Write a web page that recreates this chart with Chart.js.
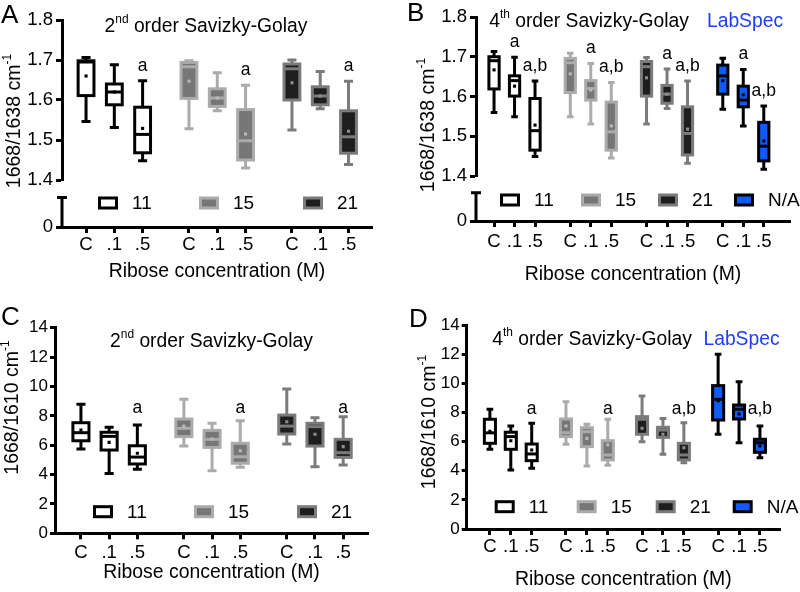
<!DOCTYPE html>
<html>
<head>
<meta charset="utf-8">
<script src="https://cdn.jsdelivr.net/npm/chart.js@4.4.1/dist/chart.umd.min.js"></script>
<style>
  body { margin: 0; background: #fff; }
  #wrap { position: relative; width: 800px; height: 592px; }
  .panel { position: absolute; width: 400px; height: 296px; }
</style>
</head>
<body>
<div id="wrap">
  <div class="panel" style="left:0;top:0"><canvas id="chartA" width="400" height="296"></canvas></div>
  <div class="panel" style="left:400px;top:0"><canvas id="chartB" width="400" height="296"></canvas></div>
  <div class="panel" style="left:0;top:296px"><canvas id="chartC" width="400" height="296"></canvas></div>
  <div class="panel" style="left:400px;top:296px"><canvas id="chartD" width="400" height="296"></canvas></div>
</div>
<script>
// categories
const conc = ['C', '.1', '.5'];
const groups3 = ['11', '15', '21'];
const groups4 = ['11', '15', '21', 'N/A'];

// A: 1668/1638, 2nd order (order: 11 C,.1,.5 | 15 ... | 21 ...)
const A_max  = [1.706, 1.688, 1.648, 1.698, 1.668, 1.637, 1.700, 1.671, 1.647];
const A_q3   = [1.698, 1.640, 1.582, 1.694, 1.628, 1.576, 1.690, 1.633, 1.573];
const A_med  = [1.695, 1.620, 1.514, 1.683, 1.605, 1.498, 1.678, 1.610, 1.508];
const A_q1   = [1.611, 1.588, 1.468, 1.604, 1.584, 1.450, 1.600, 1.588, 1.467];
const A_min  = [1.546, 1.531, 1.448, 1.528, 1.573, 1.430, 1.525, 1.578, 1.439];
const A_mean = [1.660, 1.620, 1.529, 1.647, 1.605, 1.515, 1.643, 1.610, 1.522];
const A_sig  = ['', '', 'a', '', '', 'a', '', '', 'a'];

// B: 1668/1638, 4th order + LabSpec
const B_max  = [1.713, 1.699, 1.639, 1.709, 1.683, 1.635, 1.698, 1.669, 1.639, 1.696, 1.668, 1.576];
const B_q3   = [1.700, 1.652, 1.595, 1.696, 1.640, 1.586, 1.688, 1.628, 1.574, 1.679, 1.626, 1.535];
const B_med  = [1.690, 1.640, 1.514, 1.685, 1.620, 1.511, 1.675, 1.606, 1.507, 1.652, 1.591, 1.475];
const B_q1   = [1.619, 1.601, 1.465, 1.610, 1.591, 1.465, 1.601, 1.583, 1.453, 1.606, 1.574, 1.438];
const B_min  = [1.560, 1.549, 1.449, 1.549, 1.531, 1.445, 1.531, 1.570, 1.432, 1.568, 1.526, 1.417];
const B_mean = [1.667, 1.626, 1.528, 1.657, 1.616, 1.526, 1.647, 1.606, 1.518, 1.640, 1.604, 1.488];
const B_sig  = ['', 'a', 'a,b', '', 'a', 'a,b', '', 'a', 'a,b', '', 'a', 'a,b'];

// C: 1668/1610, 2nd order
const C_max  = [8.78, 7.22, 7.37, 9.12, 7.49, 7.67, 9.83, 7.87, 7.94];
const C_q3   = [7.53, 6.88, 5.96, 7.78, 7.01, 6.13, 8.05, 7.49, 6.40];
const C_med  = [6.85, 6.60, 5.19, 7.15, 6.40, 5.21, 7.30, 7.26, 5.49];
const C_q1   = [6.30, 5.67, 4.72, 6.58, 5.85, 4.77, 6.76, 5.94, 5.17];
const C_min  = [5.74, 4.08, 4.36, 5.94, 4.26, 4.49, 6.08, 4.53, 4.65];
const C_mean = [7.03, 6.19, 5.45, 7.30, 6.42, 5.62, 7.60, 6.74, 5.90];
const C_sig  = ['', '', 'a', '', '', 'a', '', '', 'a'];

// D: 1668/1610, 4th order + LabSpec
const D_max  = [8.21, 7.07, 7.26, 8.74, 7.19, 7.53, 9.13, 7.58, 7.30, 11.99, 10.11, 7.07];
const D_q3   = [7.53, 6.64, 5.83, 7.55, 6.95, 6.06, 7.71, 6.98, 5.88, 9.84, 8.51, 6.16];
const D_med  = [6.60, 6.34, 5.15, 6.61, 6.68, 5.08, 7.53, 6.79, 5.08, 8.90, 8.22, 5.92];
const D_q1   = [5.88, 5.47, 4.69, 6.34, 5.65, 4.74, 6.50, 6.29, 4.74, 7.48, 7.55, 5.26];
const D_min  = [5.47, 4.05, 4.17, 5.81, 4.32, 4.37, 5.99, 5.13, 4.55, 6.50, 5.92, 4.89];
const D_mean = [6.70, 6.06, 5.42, 7.07, 6.22, 5.77, 6.91, 6.50, 5.58, 8.80, 7.89, 5.70];
const D_sig  = ['', '', 'a', '', '', 'a', '', '', 'a,b', '', '', 'a,b'];

const FONT = "'Liberation Sans', Arial, sans-serif";
Chart.defaults.font.family = FONT;
Chart.defaults.color = '#000';

const styles = {
  '11':  { fill: '#ffffff', line: '#000000', dot: '#000000' },
  '15':  { fill: '#767676', line: '#ababab', dot: '#b8b8b8' },
  '21':  { fill: '#1e1e1e', line: '#7b7b7b', dot: '#8e8e8e' },
  'N/A': { fill: '#0f5bff', line: '#000000', dot: '#000000' }
};

const fnt = (s) => s + 'px ' + FONT;

// draw text made of parts, some as superscript
function richText(ctx, parts, x, y, size) {
  let w = 0;
  const ws = parts.map(p => {
    ctx.font = fnt(p.sup ? size * 0.62 : size);
    const m = ctx.measureText(p.t).width;
    w += m;
    return m;
  });
  let cx = x - w / 2;
  ctx.textAlign = 'left';
  ctx.textBaseline = 'middle';
  parts.forEach((p, i) => {
    ctx.font = fnt(p.sup ? size * 0.62 : size);
    ctx.fillStyle = p.color || '#000';
    ctx.fillText(p.t, cx, p.sup ? y - size * 0.36 : y);
    cx += ws[i];
  });
}

function makeDrawer(p) {
  return {
    id: 'boxdraw',
    beforeDatasetsDraw(chart) {
      const ctx = chart.ctx, xs = chart.scales.x, ys = chart.scales.y;
      ctx.save();
      p.xv.forEach((xv, k) => {
        const st = styles[p.groups[Math.floor(k / 3)]];
        const xc = xs.getPixelForValue(xv);
        const hw = xs.getPixelForValue(xv + p.boxW / 2) - xc;
        const cw = xs.getPixelForValue(xv + 0.16) - xc;
        const yMax = ys.getPixelForValue(p.max[k]);
        const yQ3 = ys.getPixelForValue(p.q3[k]);
        const yMed = ys.getPixelForValue(p.med[k]);
        const yQ1 = ys.getPixelForValue(p.q1[k]);
        const yMin = ys.getPixelForValue(p.min[k]);
        ctx.lineWidth = 3;
        ctx.strokeStyle = st.line;
        ctx.beginPath();
        ctx.moveTo(xc, yMax); ctx.lineTo(xc, yQ3);
        ctx.moveTo(xc, yQ1); ctx.lineTo(xc, yMin);
        ctx.moveTo(xc - cw, yMax); ctx.lineTo(xc + cw, yMax);
        ctx.moveTo(xc - cw, yMin); ctx.lineTo(xc + cw, yMin);
        ctx.stroke();
        ctx.fillStyle = st.fill;
        ctx.fillRect(xc - hw, yQ3, 2 * hw, yQ1 - yQ3);
        ctx.strokeRect(xc - hw, yQ3, 2 * hw, yQ1 - yQ3);
        ctx.beginPath();
        ctx.moveTo(xc - hw, yMed); ctx.lineTo(xc + hw, yMed);
        ctx.stroke();
      });
      ctx.restore();
    },
    afterDraw(chart) {
      const ctx = chart.ctx, xs = chart.scales.x, ys = chart.scales.y;
      const area = chart.chartArea;
      ctx.save();

      // broken axis: lower piece with the "0"
      if (p.broken) {
        const y0 = chart.scales.y0;
        const ax = area.left;
        const yb = y0.getPixelForValue(p.breakAt);
        ctx.strokeStyle = '#000';
        ctx.lineWidth = 3;
        ctx.beginPath();
        ctx.moveTo(ax, y0.getPixelForValue(0) + 1.5); ctx.lineTo(ax, yb);
        ctx.moveTo(ax - 5, yb); ctx.lineTo(ax + 5, yb);
        ctx.stroke();
      }

      // significance letters
      ctx.fillStyle = '#000';
      ctx.font = fnt(17.5);
      ctx.textAlign = 'center';
      ctx.textBaseline = 'middle';
      p.xv.forEach((xv, k) => {
        if (!p.sig[k]) return;
        const y = p.letterAt != null ? ys.getPixelForValue(p.letterAt) : ys.getPixelForValue(p.max[k]) - 15;
        ctx.fillText(p.sig[k], xs.getPixelForValue(xv), y);
      });

      // legend
      const ly = area.bottom + p.legendY;
      p.groups.forEach((g, gi) => {
        const st = styles[g];
        const bx = area.left + p.legendX[gi];
        ctx.fillStyle = st.fill;
        ctx.strokeStyle = st.line;
        ctx.lineWidth = 3;
        ctx.fillRect(bx + 1.5, ly - 5, 17, 10);
        ctx.strokeRect(bx + 1.5, ly - 5, 17, 10);
        ctx.fillStyle = '#000';
        ctx.font = fnt(19);
        ctx.textAlign = 'left';
        ctx.textBaseline = 'middle';
        ctx.fillText(g, bx + 34, ly + 1);
      });

      // panel title
      richText(ctx, p.title.parts, p.title.x, p.title.y, 19.3);
      if (p.lab) richText(ctx, [{ t: 'LabSpec', color: '#1f3cff' }], p.lab.x, p.lab.y, 19.3);

      // y axis title
      ctx.save();
      ctx.translate(p.yTitle.x, p.yTitle.y);
      ctx.rotate(-Math.PI / 2);
      richText(ctx, [{ t: p.yTitle.t }, { t: '-1', sup: true }], 0, 0, 19.5);
      ctx.restore();

      // panel letter
      ctx.fillStyle = '#000';
      ctx.font = fnt(26);
      ctx.textAlign = 'left';
      ctx.textBaseline = 'middle';
      ctx.fillText(p.letter.t, p.letter.x, p.letter.y);
      ctx.restore();
    }
  };
}

function buildPanel(p) {
  p.xv = [];
  p.groups.forEach((g, gi) => conc.forEach((c, ci) => p.xv.push(gi * p.groupStep + ci)));
  const meanPts = p.mean.map((m, k) => ({ x: p.xv[k], y: m }));
  const dotColors = p.xv.map((_, k) => styles[p.groups[Math.floor(k / 3)]].dot);

  const tickFont = { family: FONT, size: p.yTickSize };
  const scales = {
    x: {
      type: 'linear', min: p.xMin, max: p.xMax,
      afterBuildTicks: s => { s.ticks = p.xv.map(v => ({ value: v })); },
      afterFit: s => { s.height = p.xHeight; },
      ticks: { autoSkip: false, maxRotation: 0, minRotation: 0, padding: p.xTickPad, color: '#000',
               font: { family: FONT, size: 18.6 }, callback: (v, i) => conc[i % 3] },
      grid: { drawOnChartArea: false, tickLength: 6, tickWidth: 3, tickColor: '#000' },
      border: { width: 3, color: '#000' },
      title: { display: true, text: 'Ribose concentration (M)', color: '#000',
               font: { family: FONT, size: 19.4 }, padding: { top: 0, bottom: p.xTitlePad } }
    },
    y: {
      type: 'linear', position: 'left', min: p.yMin, max: p.yMax,
      afterFit: s => { s.width = p.yWidth; },
      ticks: { stepSize: p.yStep, padding: p.yTickPad, color: '#000', font: tickFont,
               callback: v => v.toFixed(p.yDigits) },
      grid: { drawOnChartArea: false, tickLength: p.yTickLen, tickWidth: 3, tickColor: '#000' },
      border: { width: 3, color: '#000' }
    }
  };
  if (p.broken) {
    scales.y.stack = 'v';
    scales.y.stackWeight = p.topWeight;
    scales.y.weight = 1;
    scales.y0 = {
      type: 'linear', position: 'left', min: 0, max: 1,
      stack: 'v', stackWeight: p.botWeight, weight: 0,
      afterFit: s => { s.width = p.yWidth; },
      afterBuildTicks: s => { s.ticks = [{ value: 0 }]; },
      ticks: { padding: p.yTickPad, color: '#000', font: tickFont, callback: () => '0' },
      grid: { drawOnChartArea: false, tickLength: p.yTickLen, tickWidth: 3, tickColor: '#000' },
      border: { display: false }
    };
  }

  return new Chart(document.getElementById(p.id), {
    type: 'scatter',
    data: {
      datasets: [{
        data: meanPts,
        pointStyle: 'rect',
        pointRadius: 2.2,
        borderWidth: 0,
        backgroundColor: dotColors,
        xAxisID: 'x',
        yAxisID: 'y'
      }]
    },
    options: {
      responsive: false,
      animation: false,
      events: [],
      layout: { padding: p.pad },
      plugins: { legend: { display: false }, tooltip: { enabled: false } },
      scales
    },
    plugins: [makeDrawer(p)]
  });
}

const title2nd = [{ t: '2' }, { t: 'nd', sup: true }, { t: ' order Savizky-Golay' }];
const title4th = [{ t: '4' }, { t: 'th', sup: true }, { t: ' order Savizky-Golay' }];

buildPanel({
  id: 'chartA', groups: groups3, groupStep: 3.64, xMin: -0.85, xMax: 10.11,
  max: A_max, q3: A_q3, med: A_med, q1: A_q1, min: A_min, mean: A_mean, sig: A_sig,
  broken: true, breakAt: 0.63, topWeight: 160, botWeight: 47,
  yMin: 1.4, yMax: 1.8, yStep: 0.1, yDigits: 1, yTickSize: 18.6, yTickPad: 3, yTickLen: 6,
  pad: { left: 0, top: 20, right: 28, bottom: 0 }, yWidth: 62, xHeight: 69,
  xTickPad: 1, xTitlePad: 13, boxW: 0.56, letterAt: null,
  legendX: [36, 137, 241], legendY: -24,
  title: { parts: title2nd, x: 206, y: 27 }, lab: null,
  yTitle: { t: '1668/1638 cm', x: 15, y: 121 },
  letter: { t: 'A', x: 1, y: 16 }
});

buildPanel({
  id: 'chartB', groups: groups4, groupStep: 3.72, xMin: -0.88, xMax: 14.44,
  max: B_max, q3: B_q3, med: B_med, q1: B_q1, min: B_min, mean: B_mean, sig: B_sig,
  broken: true, breakAt: 0.63, topWeight: 159, botWeight: 45,
  yMin: 1.4, yMax: 1.8, yStep: 0.1, yDigits: 1, yTickSize: 18.6, yTickPad: 3, yTickLen: 6,
  pad: { left: 0, top: 17, right: 10, bottom: 0 }, yWidth: 76, xHeight: 75,
  xTickPad: 4, xTitlePad: 9.4, boxW: 0.5, letterAt: null,
  legendX: [24, 105, 182, 258], legendY: -21,
  title: { parts: title4th, x: 189, y: 22 }, lab: { x: 345, y: 22 },
  yTitle: { t: '1668/1638 cm', x: 29, y: 125 },
  letter: { t: 'B', x: 7, y: 14 }
});

buildPanel({
  id: 'chartC', groups: groups3, groupStep: 3.65, xMin: -0.92, xMax: 10.18,
  max: C_max, q3: C_q3, med: C_med, q1: C_q1, min: C_min, mean: C_mean, sig: C_sig,
  broken: false,
  yMin: 0, yMax: 14, yStep: 2, yDigits: 0, yTickSize: 17, yTickPad: 2, yTickLen: 5,
  pad: { left: 0, top: 31.7, right: 32, bottom: 0 }, yWidth: 55, xHeight: 58.7,
  xTickPad: 2.5, xTitlePad: 7.4, boxW: 0.57, letterAt: 8.53,
  legendX: [38, 139, 242], legendY: -21.6,
  title: { parts: title2nd, x: 211.5, y: 46 }, lab: null,
  yTitle: { t: '1668/1610 cm', x: 13, y: 111.5 },
  letter: { t: 'C', x: 1, y: 21.5 }
});

buildPanel({
  id: 'chartD', groups: groups4, groupStep: 3.64, xMin: -1.11, xMax: 13.88,
  max: D_max, q3: D_q3, med: D_med, q1: D_q1, min: D_min, mean: D_mean, sig: D_sig,
  broken: false,
  yMin: 0, yMax: 14, yStep: 2, yDigits: 0, yTickSize: 17, yTickPad: 2, yTickLen: 5,
  pad: { left: 0, top: 29, right: 20, bottom: 0 }, yWidth: 66.7, xHeight: 63,
  xTickPad: 1.2, xTitlePad: 0.5, boxW: 0.53, letterAt: 8.2,
  legendX: [28, 110, 189, 266], legendY: -22.3,
  title: { parts: title4th, x: 192, y: 44 }, lab: { x: 341.5, y: 44 },
  yTitle: { t: '1668/1610 cm', x: 30, y: 126 },
  letter: { t: 'D', x: 9, y: 24 }
});
</script>
</body>
</html>
